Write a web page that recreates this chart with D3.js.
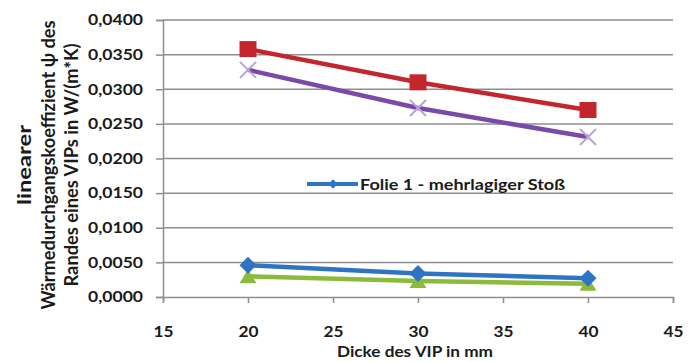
<!DOCTYPE html>
<html><head><meta charset="utf-8">
<script src="https://cdn.jsdelivr.net/npm/d3@7"></script>
<style>
html,body{margin:0;padding:0;background:#fff;}
text{font-family:Lato,"Open Sans",sans-serif;fill:#1a1a1a;}
</style></head>
<body><svg id="chart" width="696" height="362"></svg>
<script>
// Thickness of the VIP (mm)
const thickness = [20, 30, 40];
// Linear thermal transmittance per edge variant, W/(m*K)
const folie1Mehrlagig = [0.0046, 0.0034, 0.0027];
const variantGreen    = [0.0030, 0.0023, 0.0019];
const variantRed      = [0.0358, 0.0310, 0.0270];
const variantPurple   = [0.0328, 0.0273, 0.0231];
const xTicks = [15, 20, 25, 30, 35, 40, 45];
const yTicks = [0, 0.005, 0.01, 0.015, 0.02, 0.025, 0.03, 0.035, 0.04];
const legendLabel = "Folie 1 - mehrlagiger Stoß";
const xTitle = "Dicke des VIP in mm";
const yTitleLines = ["linearer", "Wärmedurchgangskoeffizient ψ des", "Randes eines VIPs in W/(m*K)"];

const svg = d3.select("#chart");
const x = d3.scaleLinear().domain([15, 45]).range([163, 673]);
const y = d3.scaleLinear().domain([0, 0.04]).range([297, 20]);
const fmt = v => d3.format(".4f")(v).replace(".", ",");
const GRID = "#8e8e8e";
const SQUEEZE = "spacingAndGlyphs";

// horizontal gridlines
svg.append("g").selectAll("line").data(yTicks.filter(d => d > 0)).join("line")
  .attr("x1", x(15)).attr("x2", x(45)).attr("y1", d => y(d)).attr("y2", d => y(d))
  .attr("stroke", GRID).attr("stroke-width", 1.5);

// y axis
const yAxis = svg.append("g").attr("transform", `translate(${x(15)},0)`)
  .call(d3.axisLeft(y).tickValues(yTicks).tickFormat(fmt).tickSize(7).tickPadding(13));
yAxis.select(".domain").attr("stroke", GRID).attr("stroke-width", 1.5);
yAxis.selectAll(".tick line").attr("stroke", GRID).attr("stroke-width", 1.5);
yAxis.selectAll("text").attr("font-size", 15).attr("font-weight", "bold").attr("fill", "#1a1a1a")
  .attr("textLength", 55).attr("lengthAdjust", SQUEEZE);

// x axis
const xAxis = svg.append("g").attr("transform", `translate(0,${y(0)})`)
  .call(d3.axisBottom(x).tickValues(xTicks).tickFormat(d3.format("d")).tickSize(6).tickPadding(23));
xAxis.select(".domain").attr("stroke", GRID).attr("stroke-width", 1.5);
xAxis.selectAll(".tick line").attr("stroke", GRID).attr("stroke-width", 1.5);
xAxis.selectAll("text").attr("font-size", 15).attr("font-weight", "bold").attr("fill", "#1a1a1a")
  .attr("textLength", 20).attr("lengthAdjust", SQUEEZE);

// axis titles
svg.append("text").attr("x", 415).attr("y", 357).attr("text-anchor", "middle")
  .attr("font-size", 16).attr("font-weight", "bold")
  .attr("textLength", 156).attr("lengthAdjust", SQUEEZE).text(xTitle);
const yTitle = svg.append("text").attr("transform", "translate(0,165) rotate(-90)")
  .attr("text-anchor", "middle").attr("font-size", 18).attr("font-weight", "bold");
const yTitleLengths = [80, 289, 243];
yTitleLines.forEach((t, i) => {
  yTitle.append("tspan").attr("x", 0).attr("y", 31 + i * 23.5)
    .attr("textLength", yTitleLengths[i]).attr("lengthAdjust", SQUEEZE).text(t);
});

const series = [
  {values: variantGreen, line: "#8cbb3c", marker: "triangle", fill: "#8cbb3c"},
  {values: folie1Mehrlagig, line: "#2f74c4", marker: "diamond", fill: "#2f74c4"},
  {values: variantPurple, line: "#7a4aa8", marker: "cross", fill: "#b9a3d8"},
  {values: variantRed, line: "#c4262e", marker: "square", fill: "#c4262e"}
];

const line = d3.line().x(d => x(d[0])).y(d => y(d[1]));

function drawMarker(g, type, cx, cy, color, scale) {
  const s = scale || 1;
  if (type === "square") {
    g.append("rect").attr("x", cx - 8.5 * s).attr("y", cy - 8 * s).attr("width", 17 * s).attr("height", 16 * s).attr("fill", color);
  } else if (type === "diamond") {
    const r = 8.5 * s;
    g.append("path").attr("d", `M${cx},${cy - r}L${cx + r},${cy}L${cx},${cy + r}L${cx - r},${cy}Z`).attr("fill", color);
  } else if (type === "triangle") {
    g.append("path").attr("d", `M${cx},${cy - 7 * s}L${cx + 8.5 * s},${cy + 7 * s}L${cx - 8.5 * s},${cy + 7 * s}Z`).attr("fill", color);
  } else if (type === "cross") {
    const r = 8 * s;
    g.append("path").attr("d", `M${cx - r},${cy - r}L${cx + r},${cy + r}M${cx - r},${cy + r}L${cx + r},${cy - r}`)
      .attr("stroke", color).attr("stroke-width", 2).attr("fill", "none");
  }
}

series.forEach(s => {
  const pts = thickness.map((t, i) => [t, s.values[i]]);
  const g = svg.append("g");
  g.append("path").datum(pts).attr("d", line).attr("fill", "none")
    .attr("stroke", s.line).attr("stroke-width", 4.5).attr("stroke-linejoin", "round");
  pts.forEach(p => drawMarker(g, s.marker, x(p[0]), y(p[1]), s.fill));
});

// legend
const lg = svg.append("g").attr("transform", "translate(307,184)");
lg.append("line").attr("x1", 0).attr("x2", 51).attr("y1", 0).attr("y2", 0)
  .attr("stroke", "#2f74c4").attr("stroke-width", 4);
drawMarker(lg, "diamond", 26, 0, "#2f74c4", 0.55);
lg.append("text").attr("x", 53).attr("y", 6).attr("font-size", 16).attr("font-weight", "bold")
  .attr("textLength", 205).attr("lengthAdjust", SQUEEZE).text(legendLabel);
</script></body></html>
